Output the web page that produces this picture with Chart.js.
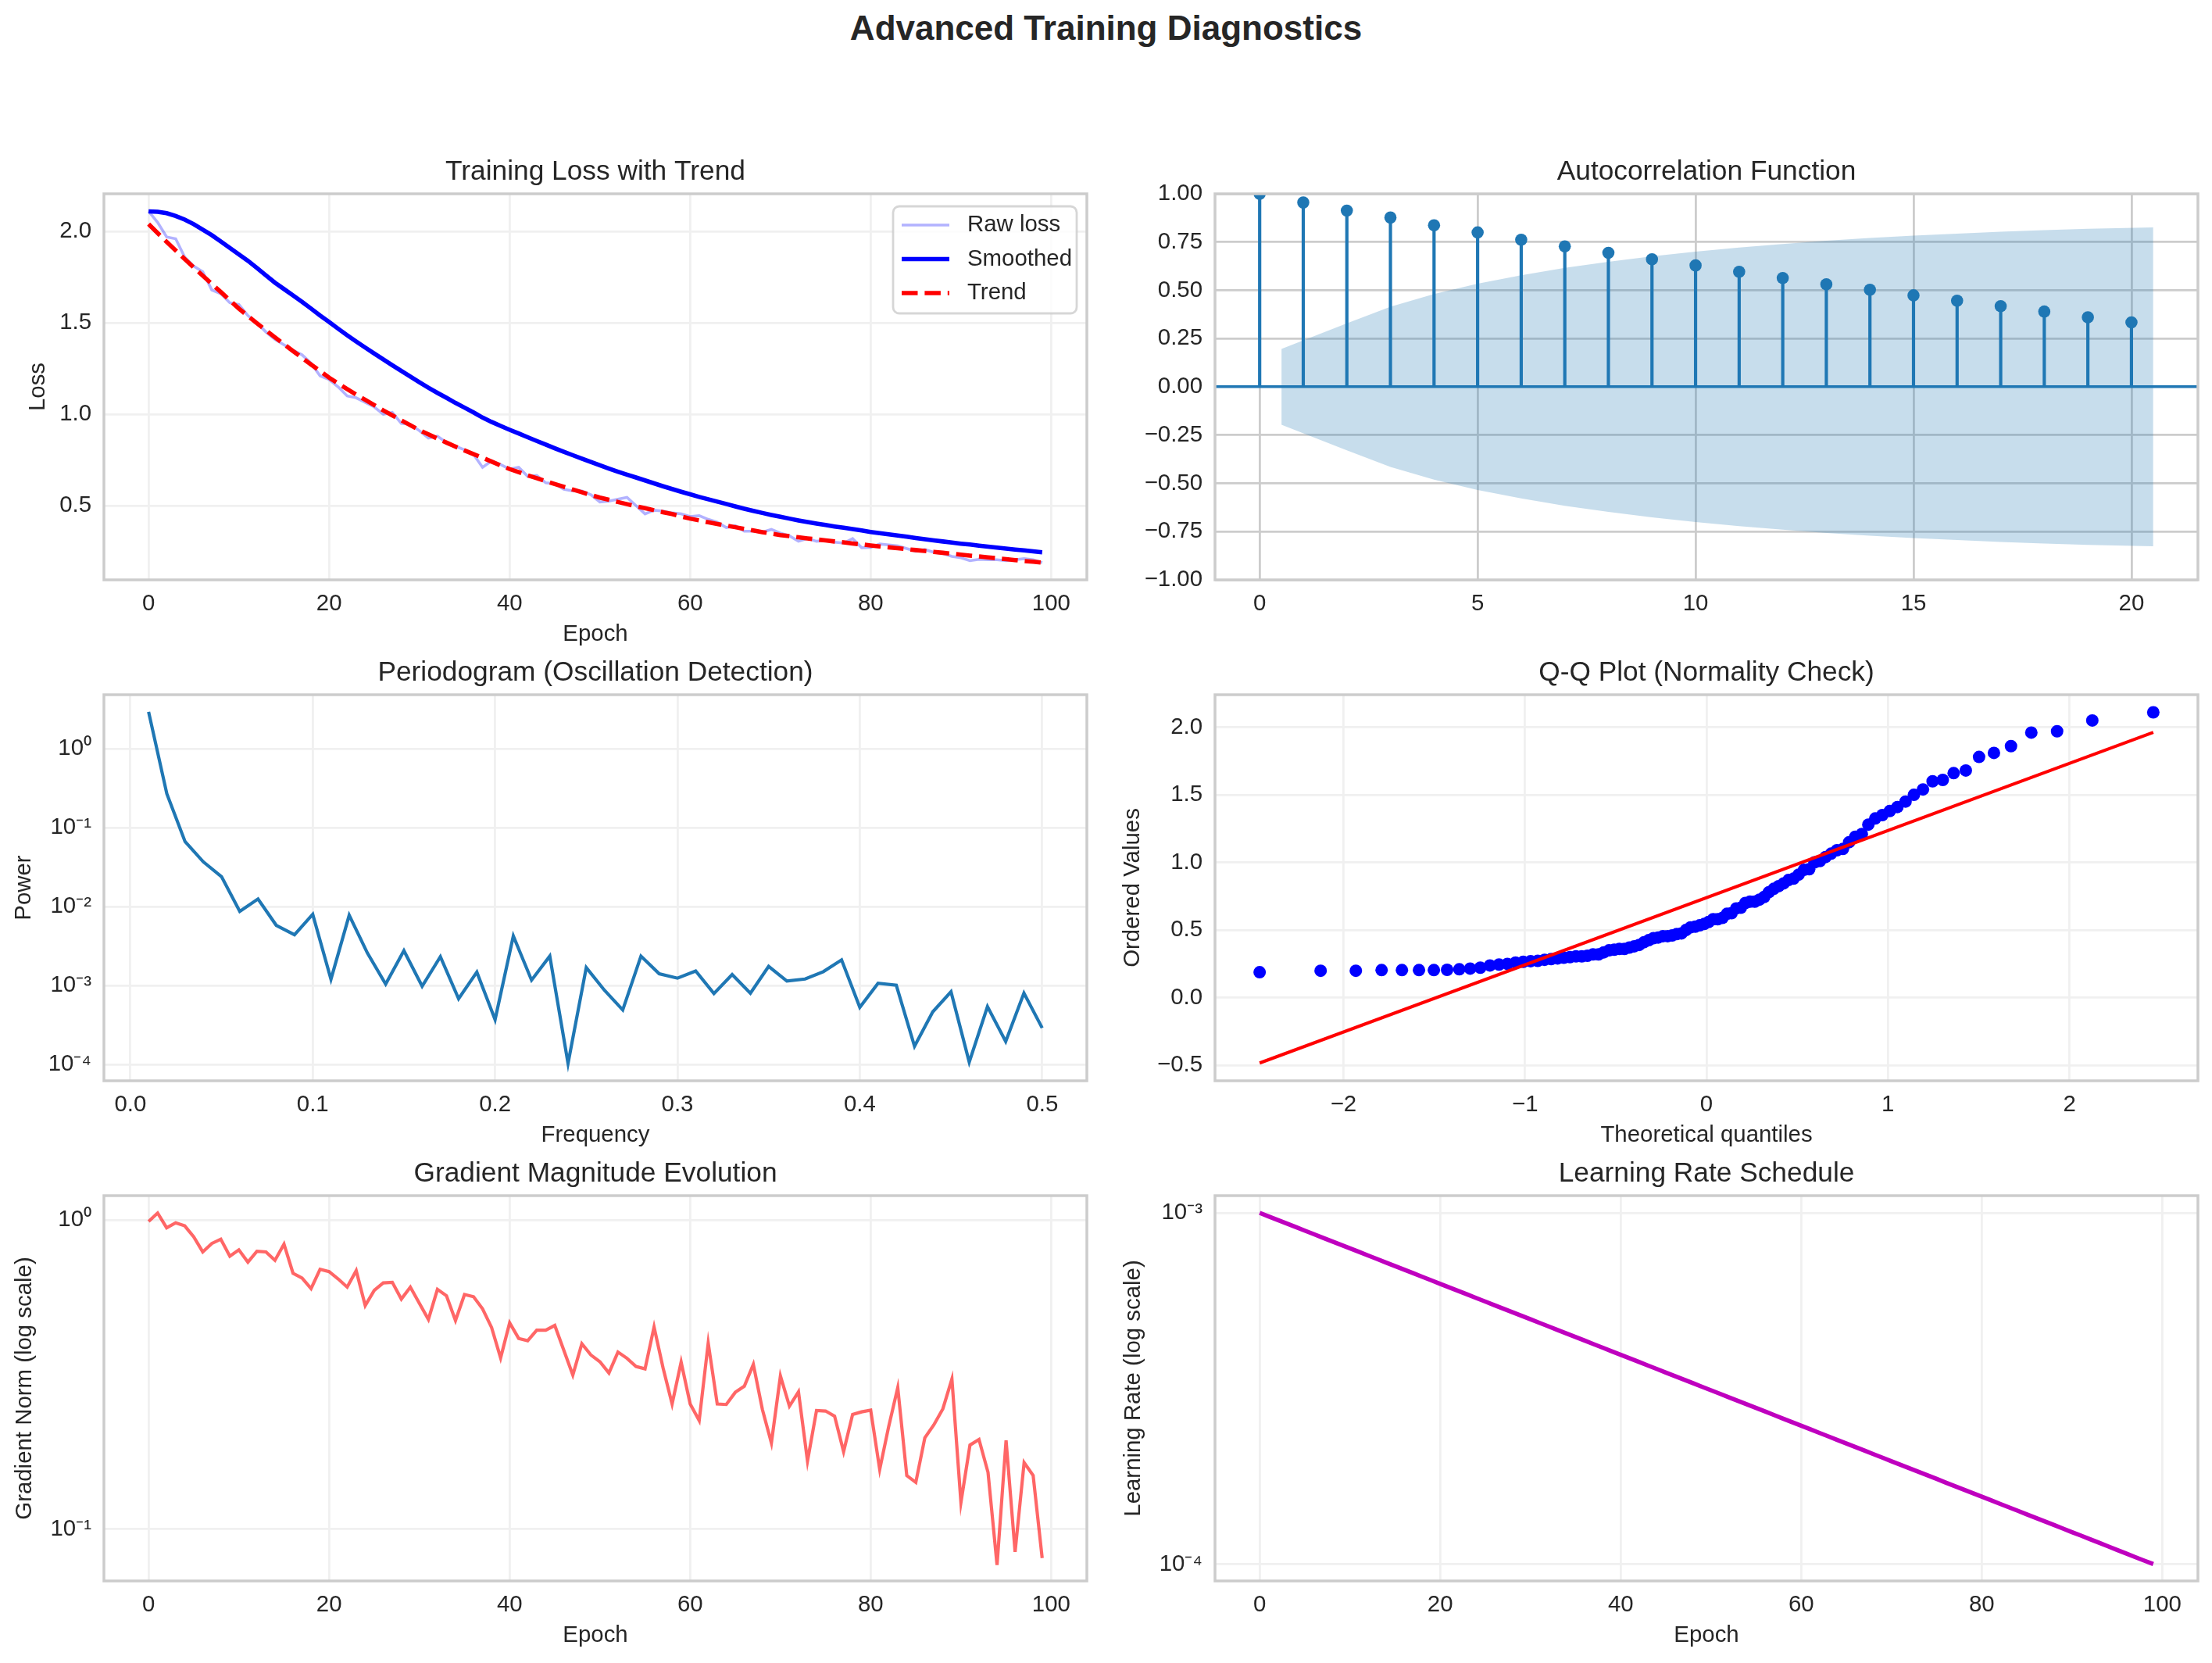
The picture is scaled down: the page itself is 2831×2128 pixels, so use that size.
<!DOCTYPE html>
<html>
<head>
<meta charset="utf-8">
<script src="https://cdn.jsdelivr.net/npm/chart.js@4.4.1/dist/chart.umd.min.js"></script>
<style>
html,body{margin:0;padding:0;background:#ffffff;}
body{width:2831px;height:2128px;position:relative;overflow:hidden;font-family:"Liberation Sans",Arial,Helvetica,sans-serif;}
canvas{position:absolute;}
#suptitle{position:absolute;left:0;top:14px;width:2831px;text-align:center;font-weight:bold;font-size:44px;line-height:44.4px;color:#262626;z-index:5;}
</style>
</head>
<body>
<div id="suptitle">Advanced Training Diagnostics</div>
<canvas id="c1"></canvas>
<canvas id="c2"></canvas>
<canvas id="c3"></canvas>
<canvas id="c4"></canvas>
<canvas id="c5"></canvas>
<canvas id="c6"></canvas>
<script>
// ---------------- DATA ----------------
const epochs = Array.from({length: 100}, (_, i) => i);

const lossRaw = [2.11,2.05,1.97,1.96,1.86,1.81,1.78,1.68,1.66,1.61,
 1.60,1.54,1.50,1.45,1.41,1.38,1.35,1.325,1.28,1.21,
 1.19,1.15,1.10,1.09,1.065,1.04,1.00,1.01,0.95,0.945,
 0.91,0.87,0.88,0.845,0.825,0.805,0.78,0.71,0.745,0.725,
 0.70,0.71,0.66,0.665,0.625,0.62,0.59,0.58,0.58,0.56,
 0.52,0.525,0.535,0.545,0.50,0.455,0.475,0.47,0.46,0.455,
 0.44,0.445,0.425,0.41,0.38,0.39,0.36,0.36,0.355,0.37,
 0.35,0.335,0.305,0.32,0.305,0.31,0.30,0.295,0.32,0.27,
 0.272,0.29,0.285,0.28,0.265,0.25,0.26,0.245,0.238,0.222,
 0.215,0.199,0.206,0.204,0.204,0.199,0.204,0.21,0.204,0.188];

const lossSmoothed = [2.11,2.108,2.10,2.085,2.065,2.04,2.01,1.98,1.945,1.91,
 1.875,1.84,1.80,1.76,1.72,1.685,1.65,1.615,1.578,1.54,
 1.505,1.468,1.432,1.398,1.365,1.332,1.30,1.268,1.237,1.206,
 1.175,1.145,1.117,1.09,1.062,1.036,1.01,0.982,0.958,0.936,
 0.915,0.895,0.874,0.854,0.834,0.814,0.795,0.776,0.757,0.739,
 0.721,0.703,0.686,0.670,0.654,0.638,0.622,0.606,0.591,0.576,
 0.562,0.548,0.535,0.522,0.509,0.496,0.483,0.471,0.460,0.449,
 0.439,0.429,0.419,0.410,0.402,0.394,0.386,0.379,0.372,0.364,
 0.356,0.349,0.343,0.337,0.330,0.323,0.316,0.310,0.304,0.298,
 0.292,0.287,0.281,0.276,0.270,0.265,0.260,0.255,0.250,0.245];

const lossTrend = [2.040,1.991,1.943,1.896,1.849,1.803,1.758,1.713,1.669,1.623,
 1.578,1.538,1.498,1.459,1.421,1.383,1.346,1.309,1.272,1.236,
 1.200,1.169,1.138,1.108,1.079,1.050,1.021,0.994,0.967,0.940,
 0.913,0.890,0.867,0.845,0.823,0.802,0.782,0.762,0.741,0.720,
 0.700,0.683,0.666,0.650,0.634,0.618,0.603,0.588,0.573,0.558,
 0.544,0.532,0.520,0.508,0.497,0.486,0.475,0.464,0.454,0.441,
 0.429,0.419,0.409,0.400,0.391,0.382,0.373,0.364,0.355,0.347,
 0.339,0.333,0.327,0.321,0.315,0.310,0.304,0.299,0.293,0.288,
 0.282,0.277,0.272,0.267,0.262,0.257,0.252,0.247,0.242,0.237,
 0.232,0.227,0.222,0.217,0.212,0.207,0.202,0.197,0.193,0.188];

const acfLags = Array.from({length: 21}, (_, i) => i);
const acfValues = [1.0,0.955,0.913,0.877,0.837,0.80,0.762,0.728,0.694,0.661,0.629,
 0.596,0.564,0.531,0.503,0.474,0.446,0.418,0.39,0.36,0.334];
const acfBandX = [0.5,2,3,4,5,6,7,8,9,10,11,12,13,14,15,16,17,18,19,20.5];
const acfBandUpper = [0.196,0.329,0.415,0.481,0.534,0.578,0.616,0.648,0.676,0.700,
 0.722,0.740,0.757,0.771,0.783,0.794,0.804,0.812,0.819,0.826];

const periodFreq = Array.from({length: 50}, (_, i) => (i + 1) / 100);
const periodPower = [2.95,0.27,0.0667,0.037,0.024,0.0087,0.0125,0.0058,0.0044,0.0080,
 0.0012,0.0078,0.00258,0.00104,0.00277,0.00098,0.00232,0.00068,0.00148,0.00037,
 0.00424,0.00117,0.00236,0.000103,0.00169,0.00087,0.00049,0.00236,0.00141,0.00124,
 0.00153,0.00079,0.00138,0.00080,0.00175,0.00114,0.00121,0.0015,0.00211,0.00053,
 0.00107,0.00101,0.00017,0.000464,0.000835,0.000107,0.00054,0.000195,0.0008,0.00029];

const qqTheoretical = [-2.462,-2.126,-1.932,-1.790,-1.678,-1.584,-1.502,-1.429,-1.362,-1.302,
 -1.246,-1.193,-1.143,-1.097,-1.052,-1.010,-0.969,-0.930,-0.892,-0.856,
 -0.820,-0.786,-0.752,-0.719,-0.687,-0.656,-0.625,-0.595,-0.566,-0.537,
 -0.508,-0.480,-0.452,-0.425,-0.398,-0.371,-0.344,-0.318,-0.292,-0.266,
 -0.240,-0.214,-0.189,-0.164,-0.138,-0.113,-0.088,-0.062,-0.037,-0.012,
 0.012,0.037,0.062,0.088,0.113,0.138,0.164,0.189,0.214,0.240,
 0.266,0.292,0.318,0.344,0.371,0.398,0.425,0.452,0.480,0.508,
 0.537,0.566,0.595,0.625,0.656,0.687,0.719,0.752,0.786,0.820,
 0.856,0.892,0.930,0.969,1.010,1.052,1.097,1.143,1.193,1.246,
 1.302,1.362,1.429,1.502,1.584,1.678,1.790,1.932,2.126,2.462];
const qqOrdered = lossRaw.slice().sort((a, b) => a - b);
const qqLineX = [-2.462, 2.462];
const qqLineY = [-0.483, 1.962];

const gradNorm = [0.99,1.054,0.944,0.98,0.958,0.882,0.789,0.84,0.867,0.764,
 0.801,0.731,0.793,0.789,0.741,0.836,0.673,0.649,0.60,0.693,
 0.681,0.645,0.607,0.686,0.529,0.592,0.626,0.629,0.555,0.607,
 0.538,0.477,0.597,0.569,0.473,0.574,0.565,0.516,0.449,0.358,
 0.465,0.414,0.407,0.44,0.44,0.456,0.379,0.315,0.398,0.366,
 0.348,0.32,0.374,0.357,0.336,0.33,0.451,0.332,0.254,0.347,
 0.254,0.2245,0.40,0.254,0.253,0.277,0.29,0.341,0.244,0.19,
 0.313,0.25,0.278,0.166,0.242,0.241,0.232,0.178,0.235,0.2395,
 0.2425,0.156,0.215,0.287,0.149,0.1416,0.1975,0.2175,0.245,0.306,
 0.122,0.187,0.195,0.1526,0.0765,0.1937,0.0843,0.164,0.149,0.0805];

const LR_UNIT = 1e-4;
const learningRate = [10.000,9.770,9.545,9.326,9.112,8.902,8.697,8.498,8.302,8.111,
 7.925,7.743,7.565,7.391,7.221,7.055,6.893,6.734,6.579,6.428,
 6.280,6.136,5.995,5.857,5.722,5.591,5.462,5.337,5.214,5.094,
 4.977,4.863,4.751,4.642,4.535,4.431,4.329,4.229,4.132,4.037,
 3.944,3.854,3.765,3.678,3.594,3.511,3.430,3.352,3.275,3.199,
 3.126,3.054,2.984,2.915,2.848,2.783,2.719,2.656,2.595,2.535,
 2.477,2.420,2.364,2.310,2.257,2.205,2.154,2.105,2.056,2.009,
 1.963,1.918,1.874,1.831,1.789,1.748,1.707,1.668,1.630,1.592,
 1.556,1.520,1.485,1.451,1.418,1.385,1.353,1.322,1.292,1.262,
 1.233,1.205,1.177,1.150,1.123,1.097,1.072,1.047,1.023,1.000];

const epochTicks = [0,20,40,60,80,100];

// ---------------- STYLE / LAYOUT ----------------
const FONT = '"Liberation Sans", Arial, Helvetica, sans-serif';
const TEXT = '#262626';
const GRID_LIGHT = '#f0f0f0';
const GRID_DARK = '#cccccc';
const SPINE = '#cccccc';
const TICK_PX = 29.4, LABEL_PX = 29.4, TITLE_PX = 35.3;
Chart.defaults.font.family = FONT;
Chart.defaults.color = TEXT;

const layouts = {
  p1: {area: [133, 248, 1391, 742],  canvas: [0, 148, 1400, 831],    ylabX: 49},
  p2: {area: [1555, 248, 2813, 742], canvas: [1420, 148, 2831, 831], ylabX: 1450},
  p3: {area: [133, 889, 1391, 1383], canvas: [0, 789, 1400, 1472],   ylabX: 31},
  p4: {area: [1555, 889, 2813, 1383],canvas: [1420, 789, 2831, 1472],ylabX: 1450},
  p5: {area: [133, 1530, 1391, 2023],canvas: [0, 1430, 1400, 2112],  ylabX: 32},
  p6: {area: [1555, 1530, 2813, 2023],canvas: [1420, 1430, 2831, 2112], ylabX: 1451}
};

const minus = s => s.replace('-', '\u2212');
const SUP = {'-': '\u207B', '0': '\u2070', '1': '\u00B9', '2': '\u00B2', '3': '\u00B3', '4': '\u2074'};
const pow10 = v => '10' + String(Math.round(Math.log10(v))).split('').map(c => SUP[c]).join('');
const fixedTicks = vals => s => { s.ticks = vals.map(v => ({value: v})); };

const centerTitle = {
  id: 'centerTitle',
  afterLayout(chart) {
    const t = chart.titleBlock;
    if (!t) return;
    t.left = chart.chartArea.left;
    t.right = chart.chartArea.right;
    t.width = t.right - t.left;
  }
};
const frame = {
  id: 'frame',
  afterDatasetsDraw(chart) {
    const {ctx, chartArea: a} = chart;
    ctx.save();
    ctx.strokeStyle = SPINE;
    ctx.lineWidth = 3.47;
    ctx.strokeRect(a.left, a.top, a.right - a.left, a.bottom - a.top);
    ctx.restore();
  }
};
const lossLegend = {
  id: 'lossLegend',
  afterDraw(chart) {
    const {ctx, chartArea: a} = chart;
    const x0 = a.right - 248, x1 = a.right - 13, y0 = a.top + 16, y1 = a.top + 153, r = 8;
    ctx.save();
    ctx.beginPath();
    ctx.moveTo(x0 + r, y0);
    ctx.arcTo(x1, y0, x1, y1, r);
    ctx.arcTo(x1, y1, x0, y1, r);
    ctx.arcTo(x0, y1, x0, y0, r);
    ctx.arcTo(x0, y0, x1, y0, r);
    ctx.closePath();
    ctx.fillStyle = 'rgba(255,255,255,0.8)';
    ctx.fill();
    ctx.strokeStyle = 'rgba(204,204,204,0.8)';
    ctx.lineWidth = 2.78;
    ctx.stroke();
    chart.data.datasets.forEach((ds, i) => {
      const cy = y0 + 24 + i * 43.5;
      ctx.strokeStyle = ds.borderColor;
      ctx.lineWidth = ds.borderWidth;
      ctx.setLineDash(ds.borderDash || []);
      ctx.beginPath();
      ctx.moveTo(x0 + 11, cy);
      ctx.lineTo(x0 + 72, cy);
      ctx.stroke();
      ctx.setLineDash([]);
      ctx.fillStyle = TEXT;
      ctx.font = TICK_PX + 'px ' + FONT;
      ctx.textBaseline = 'middle';
      ctx.textAlign = 'left';
      ctx.fillText(ds.label, x0 + 95, cy);
    });
    ctx.restore();
  }
};

function buildChart(id, L, spec) {
  const c = document.getElementById(id);
  const [cx0, cy0, cx1, cy1] = L.canvas;
  const [ax0, ay0, ax1, ay1] = L.area;
  c.width = cx1 - cx0; c.height = cy1 - cy0;
  Object.assign(c.style, {left: cx0 + 'px', top: cy0 + 'px', width: (cx1 - cx0) + 'px', height: (cy1 - cy0) + 'px'});
  const TLH = TITLE_PX * 1.2, LLH = LABEL_PX * 1.2;
  const tpb = 6.3;
  const tpt = (ay0 - cy0) - TLH - tpb;
  const yW = ax0 - cx0, xH = cy1 - ay1;
  const gridX = spec.gridX || {color: GRID_LIGHT, lineWidth: 2.78};
  const gridY = spec.gridY || {color: GRID_LIGHT, lineWidth: 2.78};
  const axisTitle = (text, pad) => text ?
    {display: true, text: text, color: TEXT, font: {family: FONT, size: LABEL_PX, lineHeight: 1.2}, padding: pad} :
    {display: false};
  return new Chart(c, {
    type: spec.type || 'line',
    data: {datasets: spec.datasets},
    options: {
      responsive: false, animation: false, devicePixelRatio: 1,
      layout: {autoPadding: false, padding: {left: 0, top: 0, right: cx1 - ax1, bottom: 0}},
      elements: {line: {tension: 0}},
      plugins: {
        legend: {display: false}, tooltip: {enabled: false},
        title: {display: true, text: spec.title, color: TEXT,
          font: {family: FONT, size: TITLE_PX, weight: 'normal', lineHeight: 1.2},
          padding: {top: tpt, bottom: tpb}}
      },
      scales: {
        x: {
          type: 'linear', min: spec.x.min, max: spec.x.max, offset: false,
          grid: Object.assign({drawTicks: false, offset: false}, gridX),
          border: {display: false},
          afterBuildTicks: fixedTicks(spec.x.ticks),
          afterFit: s => { s.height = xH; },
          ticks: {autoSkip: false, maxRotation: 0, minRotation: 0, padding: 12.9, color: TEXT,
            font: {family: FONT, size: TICK_PX}, callback: spec.x.fmt},
          title: axisTitle(spec.x.title, {top: 0, bottom: 1.9})
        },
        y: {
          type: spec.y.type || 'linear', min: spec.y.min, max: spec.y.max,
          grid: Object.assign({drawTicks: false}, gridY),
          border: {display: false},
          afterBuildTicks: fixedTicks(spec.y.ticks),
          afterFit: s => { s.width = yW; },
          ticks: {autoSkip: false, padding: 16, color: TEXT, font: {family: FONT, size: TICK_PX}, callback: spec.y.fmt},
          title: axisTitle(spec.y.title, {top: L.ylabX - cx0 - LLH / 2, bottom: 0})
        }
      }
    },
    plugins: [centerTitle, frame].concat(spec.plugins || [])
  });
}

const xy = (xs, ys) => xs.map((x, i) => ({x: x, y: ys[i]}));

// ---- Panel 1: Training loss ----
buildChart('c1', layouts.p1, {
  title: 'Training Loss with Trend',
  x: {min: -4.95, max: 103.95, ticks: epochTicks, fmt: v => String(v), title: 'Epoch'},
  y: {min: 0.094, max: 2.206, ticks: [0.5, 1.0, 1.5, 2.0], fmt: v => v.toFixed(1), title: 'Loss'},
  datasets: [
    {label: 'Raw loss', data: xy(epochs, lossRaw), borderColor: 'rgba(0,0,255,0.3)', borderWidth: 3.6, pointRadius: 0, order: 3},
    {label: 'Smoothed', data: xy(epochs, lossSmoothed), borderColor: '#0000ff', borderWidth: 5.56, pointRadius: 0, order: 2},
    {label: 'Trend', data: xy(epochs, lossTrend), borderColor: '#ff0000', borderWidth: 5.56, borderDash: [20.5, 8.9], pointRadius: 0, order: 1}
  ],
  plugins: [lossLegend]
});

// ---- Panel 2: ACF ----
const isZero = ctx => ctx.tick && ctx.tick.value === 0;
buildChart('c2', layouts.p2, {
  type: 'scatter',
  title: 'Autocorrelation Function',
  x: {min: -1.025, max: 21.525, ticks: [0, 5, 10, 15, 20], fmt: v => String(v), title: null},
  y: {min: -1, max: 1, ticks: [-1, -0.75, -0.5, -0.25, 0, 0.25, 0.5, 0.75, 1], fmt: v => minus(v.toFixed(2)), title: null},
  gridX: {color: GRID_DARK, lineWidth: 2.78},
  gridY: {color: ctx => isZero(ctx) ? '#1f77b4' : GRID_DARK, lineWidth: ctx => isZero(ctx) ? 3.5 : 2.78},
  datasets: [
    {type: 'line', label: 'upper', data: xy(acfBandX, acfBandUpper), borderColor: 'transparent', borderWidth: 0,
      pointRadius: 0, fill: '+1', backgroundColor: 'rgba(31,119,180,0.25)', order: 10},
    {type: 'line', label: 'lower', data: xy(acfBandX, acfBandUpper.map(v => -v)), borderColor: 'transparent', borderWidth: 0,
      pointRadius: 0, fill: false, order: 11},
    {type: 'bar', label: 'stems', data: xy(acfLags, acfValues), backgroundColor: '#1f77b4', barThickness: 3.5, order: 3},
    {type: 'scatter', label: 'acf', data: xy(acfLags, acfValues), backgroundColor: '#1f77b4', borderWidth: 0,
      pointRadius: 7.8, clip: 0, order: 2}
  ]
});

// ---- Panel 3: Periodogram ----
buildChart('c3', layouts.p3, {
  title: 'Periodogram (Oscillation Detection)',
  x: {min: -0.0145, max: 0.5245, ticks: [0, 0.1, 0.2, 0.3, 0.4, 0.5], fmt: v => v.toFixed(1), title: 'Frequency'},
  y: {type: 'logarithmic', min: Math.pow(10, -4.208), max: Math.pow(10, 0.687), ticks: [1e-4, 1e-3, 1e-2, 1e-1, 1], fmt: pow10, title: 'Power'},
  datasets: [
    {label: 'Power', data: xy(periodFreq, periodPower), borderColor: '#1f77b4', borderWidth: 4.17, pointRadius: 0}
  ]
});

// ---- Panel 4: Q-Q ----
buildChart('c4', layouts.p4, {
  type: 'scatter',
  title: 'Q-Q Plot (Normality Check)',
  x: {min: -2.708, max: 2.708, ticks: [-2, -1, 0, 1, 2], fmt: v => minus(String(v)), title: 'Theoretical quantiles'},
  y: {min: -0.6145, max: 2.240, ticks: [-0.5, 0, 0.5, 1, 1.5, 2], fmt: v => minus(v.toFixed(1)), title: 'Ordered Values'},
  datasets: [
    {type: 'line', label: 'fit', data: xy(qqLineX, qqLineY), borderColor: '#ff0000', borderWidth: 4.17, pointRadius: 0, order: 1},
    {type: 'scatter', label: 'ordered', data: xy(qqTheoretical, qqOrdered), backgroundColor: '#0000ff', borderWidth: 0, pointRadius: 8, order: 2}
  ]
});

// ---- Panel 5: Gradient norm ----
buildChart('c5', layouts.p5, {
  title: 'Gradient Magnitude Evolution',
  x: {min: -4.95, max: 103.95, ticks: epochTicks, fmt: v => String(v), title: 'Epoch'},
  y: {type: 'logarithmic', min: Math.pow(10, -1.168), max: Math.pow(10, 0.079), ticks: [0.1, 1], fmt: pow10, title: 'Gradient Norm (log scale)'},
  datasets: [
    {label: 'grad', data: xy(epochs, gradNorm), borderColor: 'rgba(255,0,0,0.6)', borderWidth: 4.17, pointRadius: 0}
  ]
});

// ---- Panel 6: Learning rate ----
buildChart('c6', layouts.p6, {
  title: 'Learning Rate Schedule',
  x: {min: -4.95, max: 103.95, ticks: epochTicks, fmt: v => String(v), title: 'Epoch'},
  y: {type: 'logarithmic', min: Math.pow(10, -4.048), max: Math.pow(10, -2.951), ticks: [1e-4, 1e-3], fmt: pow10, title: 'Learning Rate (log scale)'},
  datasets: [
    {label: 'lr', data: xy(epochs, learningRate.map(v => v * LR_UNIT)), borderColor: '#bf00bf', borderWidth: 5.56, pointRadius: 0}
  ]
});
</script>
</body>
</html>
